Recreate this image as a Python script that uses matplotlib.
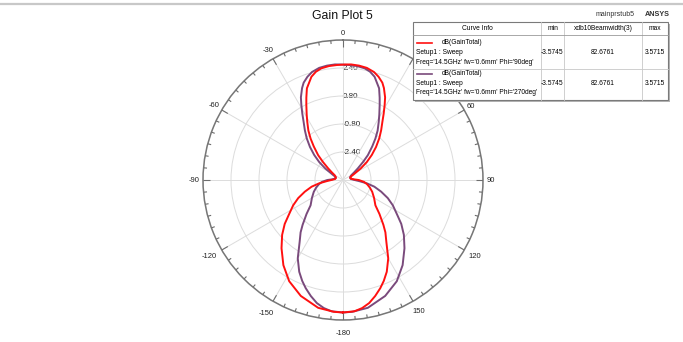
import numpy as np
import matplotlib
matplotlib.use("Agg")
import matplotlib.pyplot as plt
from matplotlib.patches import Rectangle
from matplotlib.collections import LineCollection

plt.rcParams['font.family'] = ['Liberation Sans', 'DejaVu Sans']

# Gain (dB) vs theta (deg) for the Phi=90deg cut
theta_deg = [-180, -176, -169, -160, -152, -145, -138, -132, -127, -123, -117,
             -112, -107, -102, -98, -94, -89, -83, -75, -67, -60, -56, -52,
             -48, -45, -41, -38, -35, -31.5, -29, -26, -24, -21.5, -17, -14,
             -11, -7, -3, 1, 4, 8, 12, 16, 19, 22, 24, 27, 29, 31.5, 34, 37.5,
             41, 45, 49, 53, 57, 62, 67, 73, 80, 87, 90, 95, 100, 106, 112,
             120, 128, 133, 138, 141, 145, 150, 154.5, 158, 161, 164.5, 168,
             171.5, 175, 180]
gain_phi90 = [3.5715, 3.55, 3.44, 3.05, 2.55, 1.94, 1.25, 0.68, 0.17, -0.29,
              -0.80, -1.24, -1.72, -2.17, -2.62, -3.07, -3.38, -3.54, -3.5745,
              -3.55, -3.45, -3.25, -2.93, -2.45, -1.99, -1.45, -0.99, -0.55,
              -0.09, 0.28, 0.78, 1.15, 1.63, 2.17, 2.38, 2.50, 2.56, 2.58, 2.60,
              2.62, 2.60, 2.55, 2.42, 2.24, 2.00, 1.75, 1.30, 0.91, 0.45, 0.03,
              -0.42, -0.84, -1.33, -1.82, -2.30, -2.80, -3.30, -3.52, -3.57,
              -3.55, -3.35, -3.10, -2.80, -2.60, -2.40, -2.20, -1.95, -1.65,
              -1.15, -0.55, -0.15, 0.32, 1.17, 1.81, 2.22, 2.54, 2.88, 3.19,
              3.40, 3.53, 3.5715]

# Phi=270deg cut is the mirror image of the Phi=90deg cut
theta_phi270 = [-t for t in theta_deg]
gain_phi270 = list(gain_phi90)

r_ticks = [-2.4, -0.8, 0.8, 2.4, 4.0]
r_label_values = [-2.4, -0.8, 0.8, 2.4]
theta_ticks = list(range(0, 360, 30))
theta_tick_labels = ["0", "30", "60", "90", "120", "150",
                     "-180", "-150", "-120", "-90", "-60", "-30"]
# the 30 deg label sits underneath the curve-info table
hidden_labels = {"30"}

curve_names = ["dB(GainTotal)", "dB(GainTotal)"]
curve_setups = ["Setup1 : Sweep", "Setup1 : Sweep"]
curve_params = ["Freq='14.5GHz' fw='0.6mm' Phi='90deg'",
                "Freq='14.5GHz' fw='0.6mm' Phi='270deg'"]
beamwidths = ["82.6761", "82.6761"]

red = "#ff1010"
purple = "#7a4a7c"
W, H = 683, 342

fig = plt.figure(figsize=(W / 100, H / 100), dpi=100)
fig.patch.set_facecolor("white")

cx, cy, R = 343, 180, 140
ax = fig.add_axes([(cx - R) / W, (H - cy - R) / H, 2 * R / W, 2 * R / H],
                  projection="polar")
ax.set_theta_zero_location("N")
ax.set_theta_direction(-1)
r_min, r_max = -4.0, 4.0
ax.set_ylim(r_min, r_max)
ax.set_yticks(r_ticks)
ax.set_yticklabels([])
ax.set_xticks(np.deg2rad(theta_ticks))
ax.set_xticklabels([])
ax.tick_params(axis="x", which="major", length=0)
ax.grid(True, color="#dcdcdc", linewidth=0.7)
ax.spines["polar"].set_color("#777777")
ax.spines["polar"].set_linewidth(1.1)

dB_per_px = (r_max - r_min) / R

# Inward tick marks on the outer circle: every 5 deg, longer every 30 deg
segs = []
for a in range(0, 360, 5):
    L = (7 if a % 30 == 0 else 3.5) * dB_per_px
    t = np.deg2rad(a)
    segs.append([(t, r_max), (t, r_max - L)])
ax.add_collection(LineCollection(segs, colors="#6e6e6e", linewidths=0.8,
                                 zorder=5))

# Angle labels just outside the circle; wider labels sit a little further out
for a, lab in zip(theta_ticks, theta_tick_labels):
    if lab in hidden_labels:
        continue
    gap = 4.5 + 1.6 * len(lab) + (3 if 100 < a < 260 else 0)
    ax.text(np.deg2rad(a), r_max + gap * dB_per_px, lab, fontsize=5.5,
            color="#222222", ha="center", va="center", clip_on=False)

for v in r_label_values:
    ax.text(0, v, f"{v:.2f}", fontsize=5.8, color="#222222",
            ha="left", va="center", zorder=1)

ax.plot(np.deg2rad(theta_deg), gain_phi90, color=red, lw=1.4, zorder=4)
ax.plot(np.deg2rad(theta_phi270), gain_phi270, color=purple, lw=1.4, zorder=3)

# Overlay in pixel coordinates for title and curve-info table
ov = fig.add_axes([0, 0, 1, 1], zorder=10)
ov.set_xlim(0, W)
ov.set_ylim(H, 0)
ov.axis("off")
ov.patch.set_alpha(0)

ov.plot([0, W], [3.5, 3.5], color="#c8c8c8", lw=1.6)
ov.text(342, 16, "Gain Plot 5", fontsize=8.8, ha="center", va="center",
        color="#111111")
ov.text(615, 15, "mainprstub5", fontsize=5, ha="center", va="center",
        color="#333333")
ov.text(657, 14, "ANSYS", fontsize=5.2, ha="center", va="center",
        color="#333333", fontweight="bold")

x0, x1, y0, y1 = 413, 668, 22, 100
ov.add_patch(Rectangle((x0 + 2, y0 + 2), x1 - x0, y1 - y0,
                       facecolor="#b4b4b4", edgecolor="none"))
ov.add_patch(Rectangle((x0, y0), x1 - x0, y1 - y0, facecolor="white",
                       edgecolor="#7a7a7a", lw=0.8))
for xc in (541, 564, 642):
    ov.plot([xc, xc], [y0, y1], color="#c8c8c8", lw=0.6)
ov.plot([x0, x1], [35, 35], color="#9a9a9a", lw=0.6)
ov.plot([x0, x1], [69, 69], color="#c8c8c8", lw=0.6)

fs = 4.8
ov.text(477, 29, "Curve Info", fontsize=fs, ha="center", va="center")
ov.text(552.5, 29, "min", fontsize=fs, ha="center", va="center")
ov.text(603, 29, "xdb10Beamwidth(3)", fontsize=fs, ha="center", va="center")
ov.text(655, 29, "max", fontsize=fs, ha="center", va="center")

rows = [(gain_phi90, red, 43), (gain_phi270, purple, 73.5)]
for i, (g, col, ytop) in enumerate(rows):
    ov.plot([417, 432], [ytop, ytop], color=col, lw=1.2)
    ov.text(442, ytop, curve_names[i], fontsize=fs, ha="left", va="center")
    ov.text(416, ytop + 10, curve_setups[i], fontsize=fs, ha="left",
            va="center")
    ov.text(416, ytop + 19, curve_params[i], fontsize=fs, ha="left",
            va="center")
    ymid = ytop + 10
    ov.text(552.5, ymid, f"{np.min(g):.4f}", fontsize=fs, ha="center",
            va="center")
    ov.text(603, ymid, beamwidths[i], fontsize=fs, ha="center", va="center")
    ov.text(655, ymid, f"{np.max(g):.4f}", fontsize=fs, ha="center",
            va="center")

fig.savefig("out.png", dpi=100, facecolor="white")
